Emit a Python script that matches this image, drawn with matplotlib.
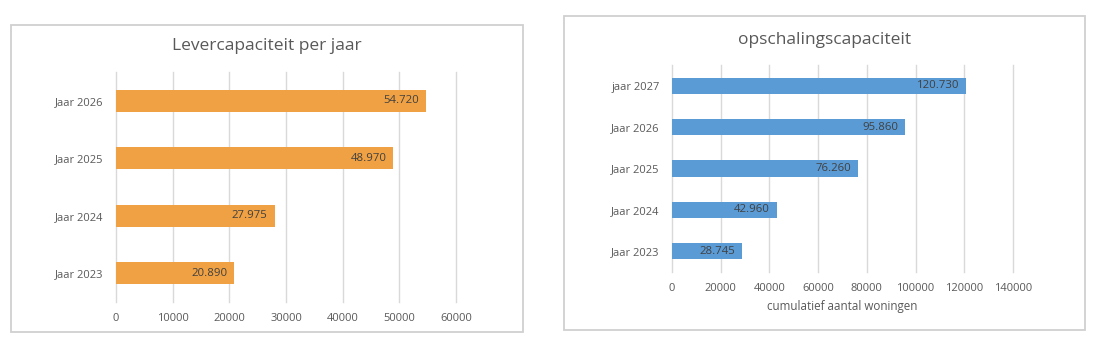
import matplotlib
matplotlib.use("Agg")
import matplotlib.pyplot as plt
from matplotlib.patches import Rectangle

plt.rcParams['font.family'] = ['Open Sans', 'DejaVu Sans']

# Levercapaciteit per jaar
lever_years = ["Jaar 2023", "Jaar 2024", "Jaar 2025", "Jaar 2026"]
lever_values = [20890, 27975, 48970, 54720]
lever_ticks = [0, 10000, 20000, 30000, 40000, 50000, 60000]

# Opschalingscapaciteit (cumulatief)
opsch_years = ["Jaar 2023", "Jaar 2024", "Jaar 2025", "Jaar 2026", "jaar 2027"]
opsch_values = [28745, 42960, 76260, 95860, 120730]
opsch_ticks = [0, 20000, 40000, 60000, 80000, 100000, 120000, 140000]

ORANGE = "#F0A143"
BLUE = "#5B9BD5"
GRID = "#D9D9D9"
TEXT = "#595959"
LABEL = "#404040"
FRAME = "#D0D0D0"

W, H = 1098, 344
fig = plt.figure(figsize=(W / 100, H / 100), dpi=100)
fig.patch.set_facecolor("white")


def fx(px):
    return px / W


def fy(py):
    return 1 - py / H


def nl(v):
    return f"{v:,}".replace(",", ".")


def panel(rect_px, axes_px, title, title_y, cats, vals, ticks, color, xlabel=None):
    x0, y0, x1, y1 = rect_px
    fig.patches.append(Rectangle((fx(x0), fy(y1)), fx(x1 - x0), (y1 - y0) / H,
                                 transform=fig.transFigure, fill=False,
                                 edgecolor=FRAME, linewidth=1.3))
    ax0, ay0, ax1, ay1 = axes_px
    ax = fig.add_axes([fx(ax0), fy(ay1), fx(ax1 - ax0), (ay1 - ay0) / H])
    pos = range(len(cats))
    bars = ax.barh(pos, vals, height=0.39, color=color, zorder=3)
    for b, v in zip(bars, vals):
        ax.annotate(nl(v), (b.get_width(), b.get_y() + b.get_height() / 2),
                    xytext=(-5, 0), textcoords="offset points",
                    ha="right", va="center", fontsize=8.2, color=LABEL, zorder=4)
    ax.set_xlim(ticks[0], ticks[-1])
    ax.set_ylim(-0.5, len(cats) - 0.5)
    ax.set_xticks(ticks)
    ax.set_xticklabels([str(t) for t in ticks])
    ax.set_yticks(list(pos))
    ax.set_yticklabels(cats)
    ax.tick_params(axis="both", length=0, labelsize=8.0, colors=TEXT)
    ax.tick_params(axis="x", pad=8)
    ax.tick_params(axis="y", pad=9)
    ax.grid(axis="x", color=GRID, linewidth=1.0, zorder=0)
    for line in ax.get_xgridlines():
        line.set_clip_on(False)
    for s in ax.spines.values():
        s.set_visible(False)
    if xlabel:
        ax.set_xlabel(xlabel, fontsize=8.4, color=TEXT, labelpad=4)
    fig.text(fx((x0 + x1) / 2), fy(title_y), title, ha="center", va="center",
             fontsize=12.5, color=TEXT)
    return ax


panel((11, 25, 523, 332), (116, 72, 456, 302), "Levercapaciteit per jaar", 46,
      lever_years, lever_values, lever_ticks, ORANGE)
panel((564, 16, 1085, 330), (672, 65, 1013, 272), "opschalingscapaciteit", 40,
      opsch_years, opsch_values, opsch_ticks, BLUE, xlabel="cumulatief aantal woningen")

fig.savefig("out.png", dpi=100, facecolor="white")
